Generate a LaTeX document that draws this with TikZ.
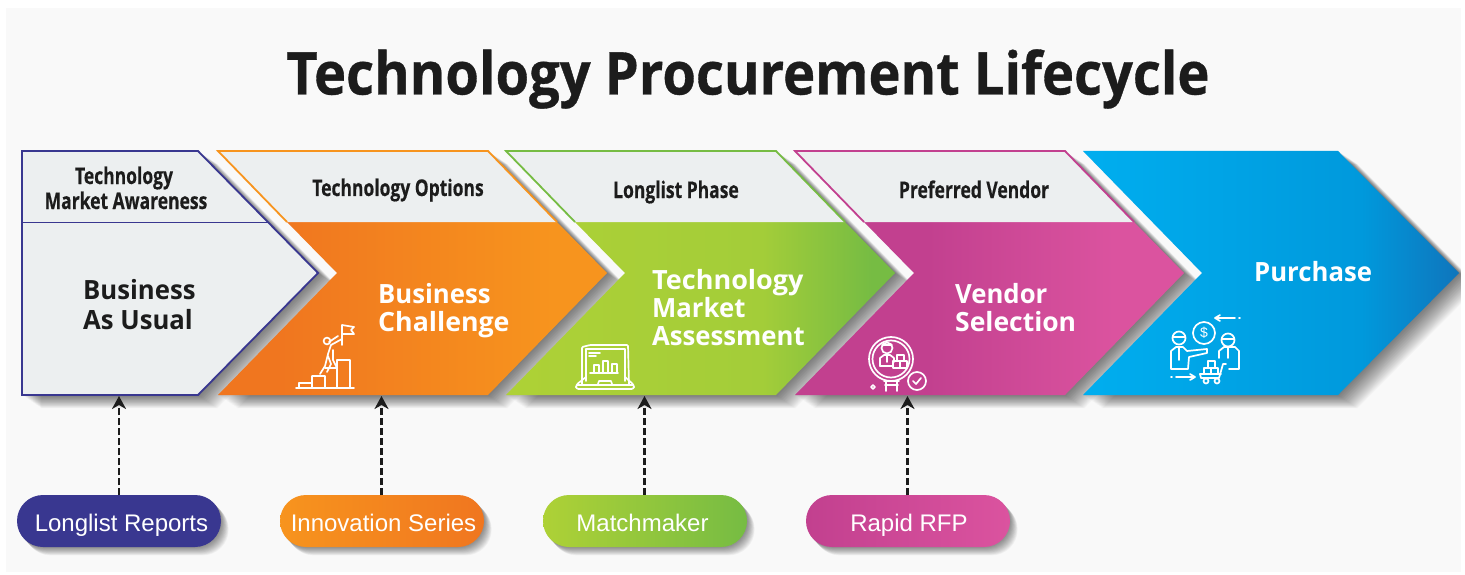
\documentclass[tikz,border=0pt]{standalone}
\usepackage{fontspec}
\setmainfont{Open Sans}
\newfontfamily\ttlfont[FakeStretch=0.92,BoldFeatures={FakeBold=0.6,FakeStretch=0.92}]{Open Sans}
\newfontfamily\hdrfont[FakeStretch=0.76,BoldFeatures={FakeBold=0.4,FakeStretch=0.76}]{Open Sans}
\newfontfamily\bodyfont[FakeStretch=0.97]{Open Sans}
\newfontfamily\pillfont{Liberation Sans}
\usetikzlibrary{arrows.meta,calc}
\definecolor{panelbg}{HTML}{F9F9F9}
\definecolor{hdrbg}{HTML}{ECEFF0}
\definecolor{ink}{HTML}{1C1C1C}
\definecolor{navy}{HTML}{393790}
\definecolor{orA}{HTML}{F0761F}
\definecolor{orB}{HTML}{F7941E}
\definecolor{grA}{HTML}{AED136}
\definecolor{grM}{HTML}{A3CD39}
\definecolor{grB}{HTML}{76BC43}
\definecolor{puA}{HTML}{C2408F}
\definecolor{puB}{HTML}{DB539F}
\definecolor{blA}{HTML}{00AEEF}
\definecolor{blM}{HTML}{0099DC}
\definecolor{blB}{HTML}{0F75BC}
\pgfdeclarehorizontalshading{orangeband}{100bp}{color(0bp)=(orA); color(33bp)=(orA); color(68bp)=(orB); color(100bp)=(orB)}
\pgfdeclarehorizontalshading{greenband}{100bp}{color(0bp)=(grA); color(25bp)=(grA); color(58bp)=(grM); color(72bp)=(grB); color(100bp)=(grB)}
\pgfdeclarehorizontalshading{purpleband}{100bp}{color(0bp)=(puA); color(42bp)=(puA); color(66bp)=(puB); color(100bp)=(puB)}
\pgfdeclarehorizontalshading{blueband}{100bp}{color(0bp)=(blA); color(25bp)=(blA); color(62bp)=(blM); color(75bp)=(blB); color(100bp)=(blB)}
\newcommand{\softshadow}[1]{%
  \foreach \s in {1,...,22}{\fill[black,opacity=0.027,shift={(\s*0.88,\s*0.6)}] #1;}%
}
\newcommand{\pillshadow}[1]{%
  \foreach \s in {1,...,14}{\fill[black,opacity=0.035,rounded corners=26pt,shift={(\s*0.55,\s*0.6)}] (#1,495) rectangle ++(204,52);}%
}
\tikzset{
  x=1pt,y=-1pt,
  title/.style={font=\ttlfont\bfseries\fontsize{59}{60}\selectfont,text=ink,inner sep=0,anchor=base},
  hdr/.style={font=\hdrfont\bfseries\fontsize{23}{25}\selectfont,text=ink,inner sep=0,anchor=base},
  body/.style={font=\bodyfont\bfseries\fontsize{26.5}{28}\selectfont,inner sep=0,anchor=base west},
  pilltext/.style={font=\pillfont\fontsize{24}{26}\selectfont,text=white,inner sep=0,anchor=base},
  link/.style={draw=ink,line width=2.4pt,dash pattern=on 7pt off 3pt,-{Stealth[length=13pt,width=14pt,inset=4pt]}},
  icon/.style={draw=white,line width=1.7pt,line join=round,line cap=round},
  edge/.style={line width=1.8pt,line join=miter},
}
\begin{document}
\begin{tikzpicture}
\useasboundingbox (0,0) rectangle (1465,575);
\fill[white] (0,0) rectangle (1465,575);
\fill[panelbg] (6,8) rectangle (1461,572);

\node[title] (ttl) at (748,94.5) {Technology Procurement Lifecycle};

% shadows
\softshadow{(22,151) -- (198,151) -- (318,273) -- (198,395) -- (22,395) -- cycle}
\softshadow{(218,151) -- (488,151) -- (607,273) -- (488,395) -- (218,395) -- (337,273) -- cycle}
\softshadow{(506,151) -- (776,151) -- (895,273) -- (776,395) -- (506,395) -- (625,273) -- cycle}
\softshadow{(795,151) -- (1065,151) -- (1184,273) -- (1065,395) -- (795,395) -- (914,273) -- cycle}
\softshadow{(1083,151) -- (1338,151) -- (1459,273) -- (1338,395) -- (1083,395) -- (1202,273) -- cycle}
\fill[white] (1461,8) rectangle (1465,575);

% chevron 5
\path[shading=blueband] (1083,151) -- (1338,151) -- (1459,273) -- (1338,395) -- (1083,395) -- (1202,273) -- cycle;
% chevron 4
\path[shading=purpleband] (864,222) -- (1134,222) -- (1184,273) -- (1065,395) -- (795,395) -- (914,273) -- cycle;
\fill[hdrbg] (864,222) -- (795,151) -- (1065,151) -- (1134,222) -- cycle;
\draw[puA,edge] (864,222) -- (795,151) -- (1065,151) -- (1134,222);
% chevron 3
\path[shading=greenband] (575,222) -- (845,222) -- (895,273) -- (776,395) -- (506,395) -- (625,273) -- cycle;
\fill[hdrbg] (575,222) -- (506,151) -- (776,151) -- (845,222) -- cycle;
\draw[grB,edge] (575,222) -- (506,151) -- (776,151) -- (845,222);
% chevron 2
\path[shading=orangeband] (287,222) -- (557,222) -- (607,273) -- (488,395) -- (218,395) -- (337,273) -- cycle;
\fill[hdrbg] (287,222) -- (218,151) -- (488,151) -- (557,222) -- cycle;
\draw[orB,edge] (287,222) -- (218,151) -- (488,151) -- (557,222);
% chevron 1
\filldraw[fill=hdrbg,draw=navy,edge] (22,151) -- (198,151) -- (318,273) -- (198,395) -- (22,395) -- cycle;
\draw[navy,edge] (22,222.5) -- (268,222.5);

% header labels
\node[hdr] (h1a) at (124,184) {Technology};
\node[hdr] (h1b) at (126,209) {Market Awareness};
\node[hdr] (h2) at (398,196) {Technology Options};
\node[hdr] (h3) at (676,198) {Longlist Phase};
\node[hdr] (h4) at (974,198) {Preferred Vendor};

% body labels
\node[body,text=ink] (b1a) at (83,299) {Business};
\node[body,text=ink] (b1b) at (83,329) {As Usual};
\node[body,text=white] (b2a) at (378,303) {Business};
\node[body,text=white] (b2b) at (378,331) {\scalebox{1.04}[1]{Challenge}};
\node[body,text=white] (b3a) at (652,289) {\scalebox{1.05}[1]{Technology}};
\node[body,text=white] (b3b) at (652,317) {Market};
\node[body,text=white] (b3c) at (652,345) {Assessment};
\node[body,text=white] (b4a) at (955,303) {Vendor};
\node[body,text=white] (b4b) at (955,331) {\scalebox{1.03}[1]{Selection}};
\node[body,text=white] (b5) at (1254,281) {Purchase};

% climber icon
\begin{scope}[icon]
\draw (296,388) -- (354,388);
\draw (299,388) -- (299,383) -- (312,383) -- (312,388);
\draw (312,376) -- (325,376) -- (325,388) (312,376) -- (312,383);
\draw (325,368) -- (337,368) -- (337,388);
\draw (337,360) -- (350,360) -- (350,388);
\draw (337,368) -- (337,360);
\draw (342,345) -- (342,325) -- (354,327) -- (351,330) -- (354,334) -- (342,334);
\draw (327,341) circle[radius=3.4];
\draw (342,339) -- (331,345) -- (328,354) -- (325,366) -- (320,374);
\draw (338,336) -- (329,342);
\draw (333,350) -- (333,360) -- (337,368);
\draw (328,356) -- (331,364) -- (327,372);
\end{scope}

% laptop icon
\begin{scope}[icon]
\draw[rounded corners=1pt] (582,384) -- (582,347) -- (590,345) -- (628,345) -- (629,384);
\draw (586,381) -- (586,349) -- (625,349) -- (625,381);
\draw[rounded corners=2.5pt] (586,377) -- (576,385) -- (576,389) -- (634,389) -- (634,385) -- (625,377);
\draw (577,385) -- (633,385);
\draw (598,384) -- (599,381) -- (611,381) -- (612,384);
\draw (589,353) -- (600,353) (589,356) -- (596,356);
\draw (590,373) -- (618,373);
\draw (594,373) -- (594,365) -- (599,365) -- (599,373);
\draw (603,373) -- (603,361) -- (608,361) -- (608,373);
\draw (612,373) -- (612,364) -- (617,364) -- (617,373);
\end{scope}

% magnifier icon
\begin{scope}[icon]
\draw (891,359) circle[radius=22];
\draw (891,359) circle[radius=18.5];
\draw (886,381) -- (886,391) (897,381) -- (897,391);
\draw (884,381) -- (899,381);
\draw (885,385) -- (898,385);
\draw (917,381) circle[radius=9];
\draw (913,381) -- (916,384) -- (921,378);
\draw (871,387) -- (873,385) -- (875,387) -- (873,389) -- cycle;
\draw (887,348) circle[radius=5.5];
\draw (882,345) -- (892,345);
\draw (880,366) -- (880,358) -- (884,355) -- (890,355) -- (894,358) -- (894,362);
\draw (880,366) -- (892,366);
\draw (887,355) -- (887,362);
\draw (897,355) rectangle (904,361);
\draw (893,361) rectangle (900,368);
\draw (900,361) rectangle (907,368);
\end{scope}

% deal icon
\begin{scope}[icon]
\draw (1204,333) circle[radius=11];
\node[font=\pillfont\fontsize{14}{14}\selectfont,text=white,inner sep=0] (dollar) at (1204,333) {\$};
\draw (1179,338) circle[radius=6.5];
\draw (1173,337) -- (1185,337);
\draw (1171,369) -- (1171,351) -- (1176,347) -- (1183,347) -- (1187,351) -- (1207,349) -- (1207,353) -- (1189,357) -- (1188,369) -- cycle;
\draw (1179,347) -- (1179,360);
\draw (1228,340) circle[radius=6.5];
\draw (1222,339) -- (1234,339);
\draw (1219,358) -- (1219,351) -- (1224,347) -- (1235,347) -- (1239,351) -- (1239,369) -- (1229,369);
\draw (1228,347) -- (1228,358);
\draw (1200,374) -- (1201,378) -- (1219,378) -- (1223,364) -- (1226,364);
\draw (1200,374) -- (1221,374);
\draw (1206,381) circle[radius=2.5];
\draw (1217,381) circle[radius=2.5];
\draw (1204,374) rectangle (1211,368);
\draw (1211,374) rectangle (1218,368);
\draw (1208,368) rectangle (1215,361);
\draw (1171,377) -- (1172,377) (1176,377) -- (1194,377);
\draw (1190,374) -- (1195,377) -- (1190,380);
\draw (1239,318) -- (1240,318) (1235,318) -- (1216,318);
\draw (1220,315) -- (1215,318) -- (1220,321);
\end{scope}

% pills
\pillshadow{17}
\pillshadow{280}
\pillshadow{543}
\pillshadow{806}
\path[fill=navy,rounded corners=26pt] (17,495) rectangle (221,547);
\path[left color=orB,right color=orA,rounded corners=26pt] (280,495) rectangle (484,547);
\path[left color=grA,right color=grB,rounded corners=26pt] (543,495) rectangle (747,547);
\path[left color=puA,right color=puB,rounded corners=26pt] (806,495) rectangle (1010,547);
\node[pilltext] (p1) at (121.5,531) {Longlist Reports};
\node[pilltext] (p2) at (383.5,531) {Innovation Series};
\node[pilltext] (p3) at (642.5,531) {Matchmaker};
\node[pilltext] (p4) at (909,531) {Rapid RFP};

% connectors
\coordinate (c1) at (119,396);
\coordinate (c2) at (381.5,396);
\coordinate (c3) at (644.5,396);
\coordinate (c4) at (907.5,396);
\coordinate (s1) at (119,495);
\coordinate (s2) at (381.5,495);
\coordinate (s3) at (644.5,495);
\coordinate (s4) at (907.5,495);
\draw[link] (s1) -- (c1);
\draw[link] (s2) -- (c2);
\draw[link] (s3) -- (c3);
\draw[link] (s4) -- (c4);
\end{tikzpicture}
\end{document}
